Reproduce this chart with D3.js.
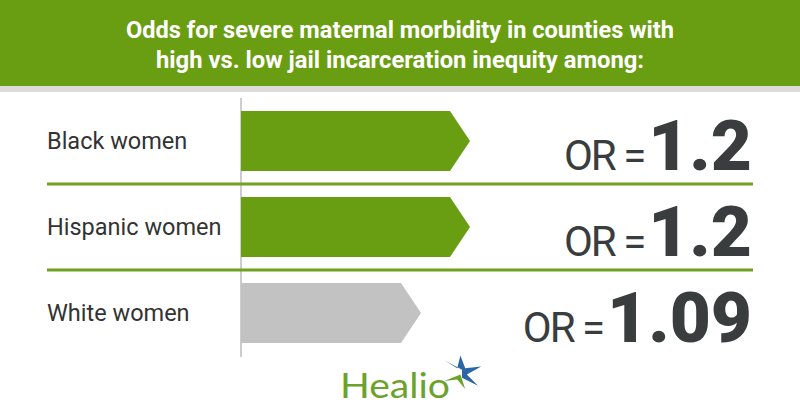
<!DOCTYPE html>
<html>
<head>
<meta charset="utf-8">
<script src="https://cdn.jsdelivr.net/npm/d3@7"></script>
<style>
  body { margin: 0; background: #fff; }
  svg { display: block; }
</style>
</head>
<body>
<svg id="chart" width="800" height="420"></svg>
<script>
var titleLines = ["Odds for severe maternal morbidity in counties with",
                  "high vs. low jail incarceration inequity among:"];
var groups = ["Black women", "Hispanic women", "White women"];
var oddsRatios = [1.2, 1.2, 1.09];
var orLabels = ["1.2", "1.2", "1.09"];
var barColors = ["#6a9e12", "#6a9e12", "#c2c2c2"];

var W = 800, H = 420;
var green = "#6a9e12", dark = "#3a3d3e";
var svg = d3.select("#chart");

// header band
svg.append("rect").attr("x", 0).attr("y", 0).attr("width", W).attr("height", 86).attr("fill", green);
svg.append("rect").attr("x", 0).attr("y", 86).attr("width", W).attr("height", 6).attr("fill", "#dcdcdc");

var titleLen = [548, 488];
svg.selectAll(".title")
  .data(titleLines)
  .enter()
  .append("text")
  .attr("class", "title")
  .attr("x", W / 2)
  .attr("y", (d, i) => 38 + i * 30)
  .attr("text-anchor", "middle")
  .attr("textLength", (d, i) => titleLen[i])
  .attr("lengthAdjust", "spacingAndGlyphs")
  .style("font-family", "Roboto, sans-serif")
  .style("font-weight", 700)
  .style("font-size", "23.5px")
  .attr("fill", "#fff")
  .text(d => d);

// scales
var x0 = 241;
var x = d3.scaleLinear().domain([0.686, 1.2]).range([x0, 470]);
var y = d3.scaleBand().domain(groups).range([98, 356]).paddingInner(0).paddingOuter(0);
var barH = 60, tip = 20;

// axis line
svg.append("line")
  .attr("x1", x0).attr("x2", x0)
  .attr("y1", 98).attr("y2", 357)
  .attr("stroke", "#9a9a9a").attr("stroke-width", 1);

var rows = groups.map((g, i) => ({ group: g, or: oddsRatios[i], label: orLabels[i], color: barColors[i] }));

// arrow bars
svg.selectAll(".bar")
  .data(rows)
  .enter()
  .append("path")
  .attr("class", "bar")
  .attr("fill", d => d.color)
  .attr("d", d => {
    var cy = y(d.group) + y.bandwidth() / 2;
    var xe = x(d.or);
    var p = d3.path();
    p.moveTo(x0, cy - barH / 2);
    p.lineTo(xe - tip, cy - barH / 2);
    p.lineTo(xe, cy);
    p.lineTo(xe - tip, cy + barH / 2);
    p.lineTo(x0, cy + barH / 2);
    p.closePath();
    return p.toString();
  });

// separators between rows
svg.selectAll(".sep")
  .data(groups.slice(1))
  .enter()
  .append("line")
  .attr("class", "sep")
  .attr("x1", 47).attr("x2", 753)
  .attr("y1", d => y(d)).attr("y2", d => y(d))
  .attr("stroke", "#6ea21e").attr("stroke-width", 3);

// category labels
svg.selectAll(".lab")
  .data(rows)
  .enter()
  .append("text")
  .attr("class", "lab")
  .attr("x", 47)
  .attr("y", d => y(d.group) + y.bandwidth() / 2 + 8)
  .style("font-family", "Roboto, sans-serif")
  .style("font-size", "23.5px")
  .attr("fill", "#333")
  .text(d => d.group);

// "OR = value" as one text with two tspans
var orText = svg.selectAll(".or")
  .data(rows)
  .enter()
  .append("text")
  .attr("class", "or")
  .attr("x", 752)
  .attr("y", d => y(d.group) + y.bandwidth() / 2 + 29)
  .attr("text-anchor", "end")
  .style("font-family", "Roboto, sans-serif")
  .attr("fill", dark);

orText.append("tspan")
  .style("font-size", "42px")
  .style("letter-spacing", "-2px")
  .text("OR =");

orText.append("tspan")
  .attr("dx", 4)
  .style("font-size", "71px")
  .style("font-weight", 900)
  .text(d => d.label);

// Healio logo
var logo = svg.append("g");
logo.append("text")
  .attr("x", 340).attr("y", 398)
  .attr("textLength", 110)
  .attr("lengthAdjust", "spacingAndGlyphs")
  .style("font-family", "Lato, 'Open Sans', sans-serif")
  .style("font-size", "35px")
  .attr("fill", "#6ba32a")
  .text("Healio");

var star = logo.append("g").attr("transform", "translate(462,373) scale(1.6)");
star.append("path")
  .attr("fill", "#2a66a8")
  .attr("d", "M0,-2 L-11,-8 L-3,-3 L-1,-11 L2,-3 L12,-4 L3,1 L10,8 L0,3 Z");
star.append("path")
  .attr("fill", "#6ba32a")
  .attr("d", "M-1,1 L-11,5 L-3,4 L2,10 Z");
</script>
</body>
</html>
